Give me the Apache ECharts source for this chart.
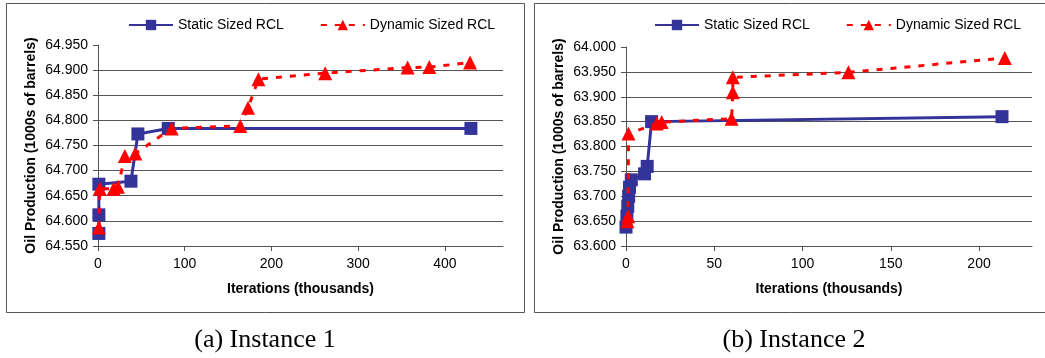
<!DOCTYPE html>
<html>
<head>
<meta charset="utf-8">
<script src="https://cdn.jsdelivr.net/npm/echarts@6/dist/echarts.min.js"></script>
<style>
html,body{margin:0;padding:0;background:#fff;}
#chart{width:1045px;height:358px;}
</style>
</head>
<body>
<div id="chart"></div>
<script>
// ---- Data ----
const seriesNames = ['Static Sized RCL', 'Dynamic Sized RCL'];

// Instance 1
const static1X = [1, 1, 1, 38, 46, 81, 430];
const static1Y = [64.575, 64.612, 64.673, 64.679, 64.773, 64.784, 64.784];
const dynamic1X = [1, 2, 18, 23, 31, 43, 85, 164, 173, 185, 262, 357, 382, 429];
const dynamic1Y = [64.587, 64.664, 64.664, 64.668, 64.729, 64.734, 64.784, 64.789, 64.825, 64.882, 64.894, 64.905, 64.906, 64.915];

// Instance 2
const static2X = [0, 0.5, 1, 1.5, 2, 3, 10.5, 12, 14.5, 213];
const static2Y = [63.638, 63.660, 63.680, 63.700, 63.718, 63.733, 63.745, 63.760, 63.850, 63.860];
const dynamic2X = [0.8, 1.2, 1.4, 17.4, 20.2, 59.8, 60.5, 60.5, 126, 214.6];
const dynamic2Y = [63.650, 63.660, 63.826, 63.846, 63.849, 63.856, 63.909, 63.939, 63.949, 63.978];

// Axis ticks
const xTicks1 = [0, 100, 200, 300, 400];
const xTicks2 = [0, 50, 100, 150, 200];
const yTicks1 = [64.55, 64.60, 64.65, 64.70, 64.75, 64.80, 64.85, 64.90, 64.95];
const yTicks2 = [63.60, 63.65, 63.70, 63.75, 63.80, 63.85, 63.90, 63.95, 64.00];

const xTitle = 'Iterations (thousands)';
const yTitle = 'Oil Production (1000s of barrels)';
const captions = ['(a) Instance 1', '(b) Instance 2'];

const pairs = (xs, ys) => xs.map((x, i) => [x, ys[i]]);

const BLUE = '#333399';
const RED = '#ff0000';
const AXIS = '#555555';
const FONT = 'Liberation Sans, Arial, sans-serif';

function xAxisDef(gi, max, ticks) {
  return {
    type: 'value', gridIndex: gi, min: 0, max: max,
    name: xTitle, nameLocation: 'middle', nameGap: 36,
    nameTextStyle: { fontFamily: FONT, fontSize: 14, fontWeight: 'bold', color: '#000' },
    axisLine: { show: true, lineStyle: { color: AXIS, width: 1 } },
    axisTick: { show: true, length: 5, customValues: ticks, lineStyle: { color: AXIS } },
    axisLabel: { customValues: ticks, margin: 11, fontFamily: FONT, fontSize: 14, color: '#000' },
    splitLine: { show: false }
  };
}
function yAxisDef(gi, ticks) {
  return {
    type: 'value', gridIndex: gi, min: ticks[0], max: ticks[ticks.length - 1], interval: 0.05,
    name: yTitle, nameLocation: 'middle', nameGap: 60,
    nameTextStyle: { fontFamily: FONT, fontSize: 14, fontWeight: 'bold', color: '#000' },
    axisLine: { show: true, lineStyle: { color: AXIS, width: 1 } },
    axisTick: { show: true, length: 5, lineStyle: { color: AXIS } },
    axisLabel: { margin: 10, fontFamily: FONT, fontSize: 14, color: '#000',
      formatter: v => v.toFixed(3) },
    splitLine: { show: true, showMinLine: false, showMaxLine: false, lineStyle: { color: AXIS, width: 1 } }
  };
}
function staticSeries(gi, data) {
  return {
    name: seriesNames[0], type: 'line', xAxisIndex: gi, yAxisIndex: gi, data: data,
    symbol: 'rect', symbolSize: 13, showAllSymbol: true,
    lineStyle: { color: BLUE, width: 3 }, itemStyle: { color: BLUE },
    animation: false, z: 2
  };
}
function dynamicSeries(gi, data) {
  return {
    name: seriesNames[1], type: 'line', xAxisIndex: gi, yAxisIndex: gi, data: data,
    symbol: 'triangle', symbolSize: 14, showAllSymbol: true,
    lineStyle: { color: RED, width: 3, type: [6, 8] }, itemStyle: { color: RED },
    animation: false, z: 3
  };
}
function legendDef(left) {
  return {
    left: left, top: 13, orient: 'horizontal', itemWidth: 44, itemHeight: 13, itemGap: 36,
    data: seriesNames, selectedMode: false,
    textStyle: { fontFamily: FONT, fontSize: 14, color: '#000' }
  };
}

const chart = echarts.init(document.getElementById('chart'), null, { renderer: 'canvas' });
chart.setOption({
  backgroundColor: '#fff',
  animation: false,
  legend: [legendDef(123), legendDef(649)],
  grid: [
    { left: 98, top: 45, width: 405, height: 201, containLabel: false },
    { left: 626, top: 47, width: 406, height: 199, containLabel: false }
  ],
  xAxis: [xAxisDef(0, 467, xTicks1), xAxisDef(1, 230, xTicks2)],
  yAxis: [yAxisDef(0, yTicks1), yAxisDef(1, yTicks2)],
  series: [
    staticSeries(0, pairs(static1X, static1Y)),
    dynamicSeries(0, pairs(dynamic1X, dynamic1Y)),
    staticSeries(1, pairs(static2X, static2Y)),
    dynamicSeries(1, pairs(dynamic2X, dynamic2Y))
  ],
  graphic: [
    { type: 'rect', shape: { x: 6.5, y: 3.5, width: 518, height: 309 }, style: { fill: null, stroke: AXIS, lineWidth: 1 }, silent: true },
    { type: 'rect', shape: { x: 534.5, y: 3.5, width: 530, height: 309 }, style: { fill: null, stroke: AXIS, lineWidth: 1 }, silent: true },
    { type: 'text', x: 265, y: 340, style: { text: captions[0], textAlign: 'center', textVerticalAlign: 'middle', font: '26px "Liberation Serif", serif', fill: '#000' } },
    { type: 'text', x: 794, y: 340, style: { text: captions[1], textAlign: 'center', textVerticalAlign: 'middle', font: '26px "Liberation Serif", serif', fill: '#000' } }
  ]
});
</script>
</body>
</html>
